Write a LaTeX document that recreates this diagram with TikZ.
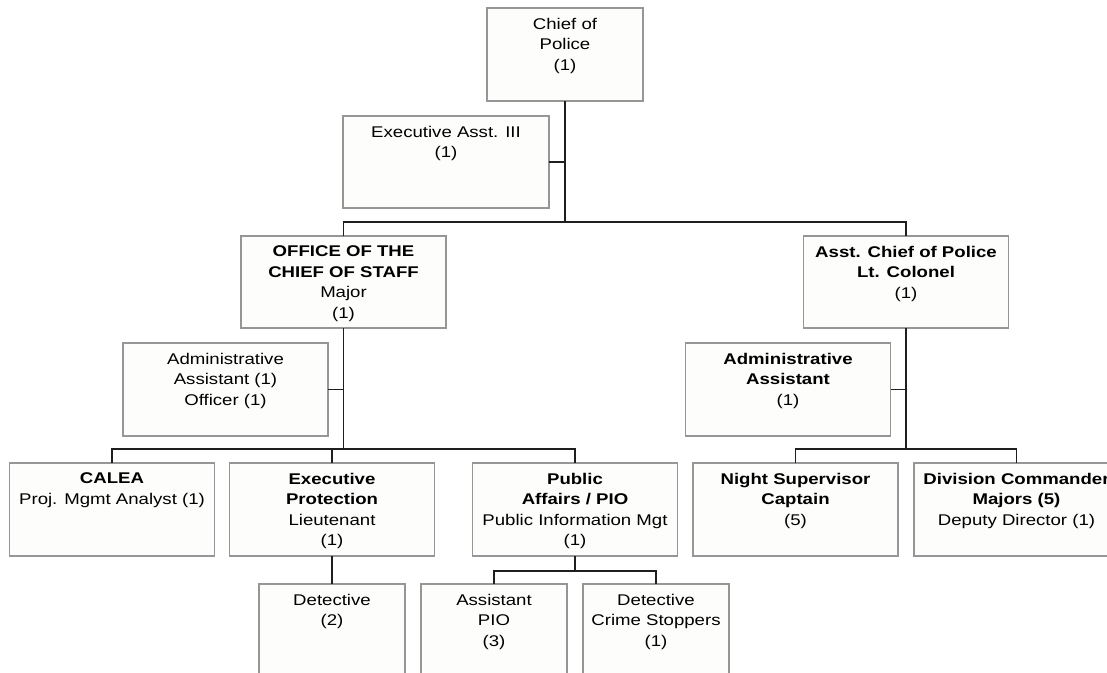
\documentclass[tikz,border=0pt]{standalone}
\usepackage{fontspec}
\setmainfont{Liberation Sans}[FakeStretch=1.2]
\definecolor{boxgray}{RGB}{150,150,150}
\definecolor{boxfill}{RGB}{253,253,251}
\definecolor{linecol}{RGB}{30,30,30}
\newcommand{\orgbox}[3]{\parbox[c][#2][t]{#1}{\centering\vspace*{10pt}#3\par}}
\tikzset{
  orgnode/.style={draw=boxgray, fill=boxfill, line width=1.4pt, inner sep=0pt, outer sep=0pt,
    font=\fontsize{15.5}{20.5}\selectfont},
  conn/.style={draw=linecol, line width=1.3pt}
}
\begin{document}
\begin{tikzpicture}[x=1pt,y=-1pt]
\useasboundingbox (0,0) rectangle (1107,672);
\clip (0,0) rectangle (1107,672);
\fill[white] (0,0) rectangle (1107,672);

% nodes
\node[orgnode] (chief) at (565,54.5) {\orgbox{156pt}{93pt}{Chief of\\Police\\(1)}};
\node[orgnode] (exec) at (446,162) {\orgbox{206pt}{92pt}{Executive Asst. III\\(1)}};
\node[orgnode] (office) at (343.5,282) {\orgbox{205pt}{92pt}{{\bfseries OFFICE OF THE\\CHIEF OF STAFF}\\Major\\(1)}};
\node[orgnode] (asstchief) at (906,282) {\orgbox{205pt}{92pt}{{\bfseries Asst. Chief of Police\\Lt. Colonel}\\(1)}};
\node[orgnode] (admin1) at (225.5,389.5) {\orgbox{205pt}{93pt}{Administrative\\Assistant (1)\\Officer (1)}};
\node[orgnode] (admin2) at (788,389.5) {\orgbox{205pt}{93pt}{{\bfseries Administrative\\Assistant}\\(1)}};
\node[orgnode] (calea) at (112,509.5) {\orgbox{205pt}{93pt}{{\bfseries CALEA}\\Proj. Mgmt Analyst (1)}};
\node[orgnode] (exprot) at (332,509.5) {\orgbox{205pt}{93pt}{{\bfseries Executive\\Protection}\\Lieutenant\\(1)}};
\node[orgnode] (pubaff) at (575,509.5) {\orgbox{205pt}{93pt}{{\bfseries Public\\Affairs / PIO}\\Public Information Mgt\\(1)}};
\node[orgnode] (night) at (795.5,509.5) {\orgbox{205pt}{93pt}{{\bfseries Night Supervisor\\Captain}\\(5)}};
\node[orgnode] (div) at (1016.5,509.5) {\orgbox{205pt}{93pt}{{\bfseries Division Commander\\Majors (5)}\\Deputy Director (1)}};
\node[orgnode] (detective) at (332,630.5) {\orgbox{146pt}{93pt}{Detective\\(2)}};
\node[orgnode] (asstpio) at (494,630.5) {\orgbox{146pt}{93pt}{Assistant\\PIO\\(3)}};
\node[orgnode] (crime) at (656,630.5) {\orgbox{146pt}{93pt}{Detective\\Crime Stoppers\\(1)}};

% junctions
\coordinate (j1) at (565,222);
\coordinate (j2) at (343.5,449);
\coordinate (j3) at (906,449);
\coordinate (j4) at (575,571);

% connectors
\draw[conn] (chief.south) -- (j1);
\draw[conn] (exec.east) -- (exec.east -| chief.south);
\draw[conn] (office.north) |- (j1) -| (asstchief.north);
\draw[conn] (office.south) -- (j2);
\draw[conn] (admin1.east) -- (admin1.east -| office.south);
\draw[conn] (calea.north) |- (j2) -| (pubaff.north);
\draw[conn] (exprot.north) -- (exprot.north |- j2);
\draw[conn] (asstchief.south) -- (j3);
\draw[conn] (admin2.east) -- (admin2.east -| asstchief.south);
\draw[conn] (night.north) |- (j3) -| (div.north);
\draw[conn] (exprot.south) -- (detective.north);
\draw[conn] (pubaff.south) -- (j4);
\draw[conn] (asstpio.north) |- (j4) -| (crime.north);
\end{tikzpicture}
\end{document}
